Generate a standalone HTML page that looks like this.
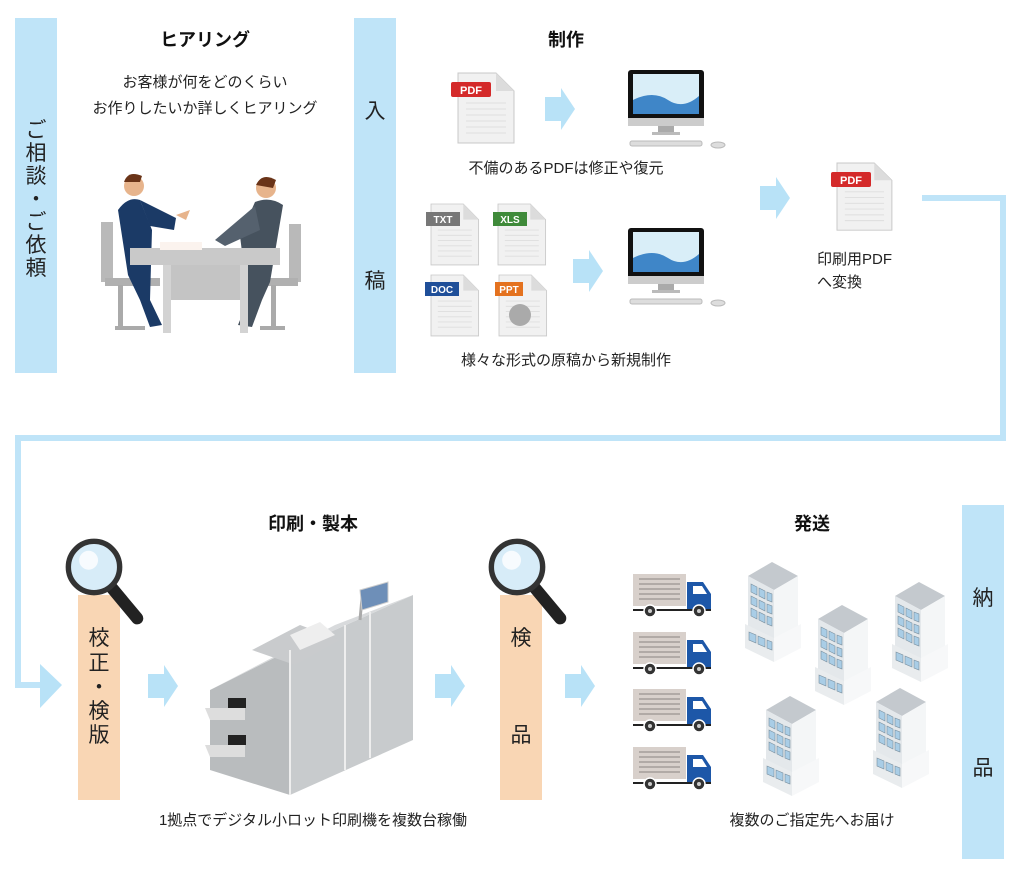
<!DOCTYPE html>
<html><head><meta charset="utf-8"><style>
html,body{margin:0;padding:0;background:#fff}
svg{display:block}
text{font-family:"Liberation Sans","Noto Sans CJK JP",sans-serif;fill:#222}
.t{font-size:15px}
.h{font-size:18px;font-weight:bold;fill:#111}
.v{font-size:21px}
</style></head><body>
<svg width="1024" height="873" viewBox="0 0 1024 873" xmlns="http://www.w3.org/2000/svg">
<defs>
 <g id="arr"><polygon points="0,9 16,9 16,0 30,21 16,42 16,33 0,33" fill="#b8e2f7"/></g>
 <g id="doc">
  <polygon points="0,0 38,0 56,18 56,70 0,70" fill="#f1f1f1" stroke="#c8c8c8"/>
  <polygon points="38,0 38,18 56,18" fill="#dcdcdc"/>
  <g stroke="#dedede" stroke-width="1"><line x1="8" y1="30" x2="48" y2="30"/><line x1="8" y1="36" x2="48" y2="36"/><line x1="8" y1="42" x2="48" y2="42"/><line x1="8" y1="48" x2="48" y2="48"/><line x1="8" y1="54" x2="48" y2="54"/><line x1="8" y1="60" x2="48" y2="60"/></g>
 </g>
 <g id="pc">
  <rect x="0" y="0" width="76" height="52" rx="3" fill="#111"/>
  <rect x="5" y="4" width="66" height="40" fill="#d9eef8"/>
  <path d="M5 30 Q25 20 40 30 T71 26 V44 H5Z" fill="#3f86c8"/>
  <rect x="0" y="48" width="76" height="8" fill="#ccc"/>
  <rect x="30" y="56" width="16" height="6" fill="#aaa"/>
  <rect x="24" y="62" width="28" height="3" fill="#bbb"/>
  <rect x="2" y="71" width="72" height="5" rx="2" fill="#ddd" stroke="#bbb"/>
  <ellipse cx="90" cy="75" rx="7" ry="3" fill="#ddd" stroke="#bbb"/>
 </g>
 <g id="mag">
  <line x1="32" y1="34" x2="52" y2="58" stroke="#222" stroke-width="9" stroke-linecap="round"/>
  <circle cx="20" cy="20" r="19" fill="#d7ecf8" stroke="#333" stroke-width="4"/>
  <circle cx="16" cy="15" r="7" fill="#fff" opacity=".8"/>
 </g>
 <g id="truck">
  <rect x="0" y="0" width="53" height="32" fill="#d8d0cb"/>
  <g stroke="#8a8480"><line x1="6" y1="5" x2="47" y2="5"/><line x1="6" y1="10" x2="47" y2="10"/><line x1="6" y1="15" x2="47" y2="15"/><line x1="6" y1="20" x2="47" y2="20"/><line x1="6" y1="25" x2="47" y2="25"/></g>
  <path d="M54 8 H70 L78 20 V36 H54Z" fill="#1d57a8"/>
  <path d="M60 12 H69 L74 20 H60Z" fill="#fff"/>
  <line x1="0" y1="36" x2="78" y2="36" stroke="#222" stroke-width="2"/>
  <circle cx="17" cy="37" r="6" fill="#333" stroke="#fff" stroke-width="1.5"/><circle cx="17" cy="37" r="2" fill="#ccc"/>
  <circle cx="66" cy="37" r="6" fill="#333" stroke="#fff" stroke-width="1.5"/><circle cx="66" cy="37" r="2" fill="#ccc"/>
 </g>
 <g id="bld">
  <polygon points="0,14 24,0 50,14 26,28" fill="#c4c9ce"/>
  <polygon points="0,14 26,28 26,95 0,82" fill="#e4e8eb"/>
  <polygon points="26,28 50,14 50,82 26,95" fill="#f4f6f7"/>
  <polygon points="-3,62 26,76 26,100 -3,86" fill="#e9ecee"/>
  <polygon points="26,76 53,62 53,86 26,100" fill="#f7f8f9"/>
  <g fill="#a9cde6" stroke="#7a8f9e" stroke-width=".6">
   <polygon points="3,22 9,25 9,33 3,30"/><polygon points="11,26 17,29 17,37 11,34"/><polygon points="19,30 24,32 24,40 19,38"/>
   <polygon points="3,34 9,37 9,45 3,42"/><polygon points="11,38 17,41 17,49 11,46"/><polygon points="19,42 24,44 24,52 19,50"/>
   <polygon points="3,46 9,49 9,57 3,54"/><polygon points="11,50 17,53 17,61 11,58"/><polygon points="19,54 24,56 24,64 19,62"/>
   <polygon points="1,70 8,73 8,81 1,78"/><polygon points="10,74 17,77 17,85 10,82"/><polygon points="19,78 24,80 24,88 19,86"/>
  </g>
 </g>
</defs>

<rect x="15" y="18" width="42" height="355" fill="#bfe4f8"/>
<rect x="354" y="18" width="42" height="355" fill="#bfe4f8"/>
<rect x="962" y="505" width="42" height="354" fill="#bfe4f8"/>
<rect x="78" y="595" width="42" height="205" fill="#f9d6b4"/>
<rect x="500" y="595" width="42" height="205" fill="#f9d6b4"/>

<polyline points="922,198 1003,198 1003,438 18,438 18,685 40,685" fill="none" stroke="#bfe4f8" stroke-width="6"/>
<polygon points="40,664 62,685 40,708" fill="#b8e2f7"/>

<text class="v" x="36" y="137" text-anchor="middle">ご</text>
<text class="v" x="36" y="160" text-anchor="middle">相</text>
<text class="v" x="36" y="183" text-anchor="middle">談</text>
<text class="v" x="36" y="206" text-anchor="middle">・</text>
<text class="v" x="36" y="229" text-anchor="middle">ご</text>
<text class="v" x="36" y="252" text-anchor="middle">依</text>
<text class="v" x="36" y="275" text-anchor="middle">頼</text>
<text class="v" x="375" y="118" text-anchor="middle">入</text>
<text class="v" x="375" y="288" text-anchor="middle">稿</text>
<text class="v" x="99" y="645" text-anchor="middle">校</text>
<text class="v" x="99" y="670" text-anchor="middle">正</text>
<text class="v" x="99" y="694" text-anchor="middle">・</text>
<text class="v" x="99" y="718" text-anchor="middle">検</text>
<text class="v" x="99" y="742" text-anchor="middle">版</text>
<text class="v" x="521" y="645" text-anchor="middle">検</text>
<text class="v" x="521" y="742" text-anchor="middle">品</text>
<text class="v" x="983" y="605" text-anchor="middle">納</text>
<text class="v" x="983" y="775" text-anchor="middle">品</text>

<text class="h" x="205" y="46" text-anchor="middle">ヒアリング</text>
<text class="h" x="566" y="46" text-anchor="middle">制作</text>
<text class="h" x="313" y="530" text-anchor="middle">印刷・製本</text>
<text class="h" x="812" y="530" text-anchor="middle">発送</text>

<text class="t" x="205" y="87" text-anchor="middle">お客様が何をどのくらい</text>
<text class="t" x="205" y="113" text-anchor="middle">お作りしたいか詳しくヒアリング</text>
<text class="t" x="566" y="173" text-anchor="middle">不備のあるPDFは修正や復元</text>
<text class="t" x="566" y="365" text-anchor="middle">様々な形式の原稿から新規制作</text>
<text class="t" x="817" y="264">印刷用PDF</text>
<text class="t" x="817" y="287">へ変換</text>
<text class="t" x="313" y="825" text-anchor="middle">1拠点でデジタル小ロット印刷機を複数台稼働</text>
<text class="t" x="812" y="825" text-anchor="middle">複数のご指定先へお届け</text>

<g>
 <rect x="101" y="222" width="12" height="60" fill="#b9b9b9"/><rect x="105" y="278" width="55" height="8" fill="#b0b0b0"/>
 <rect x="118" y="285" width="5" height="45" fill="#aaa"/><rect x="115" y="326" width="30" height="4" fill="#aaa"/>
 <rect x="289" y="224" width="12" height="58" fill="#b9b9b9"/><rect x="250" y="278" width="48" height="8" fill="#b0b0b0"/>
 <rect x="271" y="285" width="5" height="45" fill="#aaa"/><rect x="260" y="326" width="25" height="4" fill="#aaa"/>
 <path d="M118 210 Q128 196 140 200 L152 230 L150 300 L162 325 L150 327 L140 300 L128 275 Z" fill="#1b3a66"/>
 <path d="M140 200 L176 218 L174 230 L150 226 Z" fill="#1b3a66"/>
 <circle cx="134" cy="186" r="10" fill="#e7b48c"/><path d="M124 182 Q128 170 142 176 L140 182 Z" fill="#6a3418"/>
 <path d="M176 215 L190 210 L186 220 Z" fill="#e7b48c"/>
 <path d="M283 205 Q270 196 255 202 L240 236 L248 300 L238 325 L252 327 L262 300 L270 282 Z" fill="#46525e"/>
 <path d="M255 206 L215 240 L225 246 L260 230 Z" fill="#55616e"/>
 <circle cx="266" cy="188" r="10" fill="#e7b48c"/><path d="M256 185 Q262 172 276 180 L273 188 Z" fill="#6a3418"/>
 <rect x="130" y="248" width="150" height="17" fill="#c9c9c9"/>
 <rect x="163" y="265" width="84" height="35" fill="#c4c4c4"/>
 <rect x="163" y="265" width="8" height="68" fill="#d3d3d3"/><rect x="240" y="265" width="8" height="68" fill="#d3d3d3"/>
 <rect x="160" y="242" width="42" height="8" fill="#fbf3ee"/>
</g>

<use href="#doc" x="458" y="73"/>
<rect x="451" y="82" width="40" height="15" rx="2" fill="#d42a2a"/><text x="471" y="94" text-anchor="middle" style="font-size:11px;font-weight:bold;fill:#fff">PDF</text>
<use href="#arr" transform="translate(545,88)"/>
<use href="#pc" transform="translate(628,70)"/>
<use href="#arr" transform="translate(760,177)"/>
<use href="#doc" transform="translate(837,163) scale(0.98,0.96)"/>
<rect x="831" y="172" width="40" height="15" rx="2" fill="#d42a2a"/><text x="851" y="184" text-anchor="middle" style="font-size:11px;font-weight:bold;fill:#fff">PDF</text>

<g transform="translate(431,204) scale(0.85,0.87)"><use href="#doc"/></g>
<rect x="426" y="212" width="34" height="14" fill="#777"/><text x="443" y="223" text-anchor="middle" style="font-size:10px;font-weight:bold;fill:#fff">TXT</text>
<g transform="translate(498,204) scale(0.85,0.87)"><use href="#doc"/></g>
<rect x="493" y="212" width="34" height="14" fill="#3f8a3a"/><text x="510" y="223" text-anchor="middle" style="font-size:10px;font-weight:bold;fill:#fff">XLS</text>
<g transform="translate(431,275) scale(0.85,0.87)"><use href="#doc"/></g>
<rect x="425" y="282" width="34" height="14" fill="#1f4f99"/><text x="442" y="293" text-anchor="middle" style="font-size:10px;font-weight:bold;fill:#fff">DOC</text>
<g transform="translate(499,275) scale(0.85,0.87)"><use href="#doc"/></g>
<rect x="495" y="282" width="28" height="14" fill="#e4721f"/><text x="509" y="293" text-anchor="middle" style="font-size:10px;font-weight:bold;fill:#fff">PPT</text>
<circle cx="520" cy="315" r="11" fill="#aaa"/>
<use href="#arr" transform="translate(573,250)"/>
<use href="#pc" transform="translate(628,228)"/>

<use href="#arr" transform="translate(148,665)"/>
<use href="#arr" transform="translate(435,665)"/>
<use href="#arr" transform="translate(565,665)"/>

<use href="#mag" transform="translate(67,540) scale(1.35)"/>
<use href="#mag" transform="translate(490,540) scale(1.35)"/>

<g>
 <polygon points="210,690 290,650 290,795 210,770" fill="#b9bcbe"/>
 <polygon points="290,650 413,595 413,740 290,795" fill="#c8cbcd"/>
 <polygon points="210,690 290,650 413,595 335,625" fill="#d8dadc"/>
 <polygon points="252,650 300,625 340,640 295,665" fill="#c9cbcd"/>
 <polygon points="290,635 320,622 335,635 300,650" fill="#eee"/>
 <line x1="290" y1="650" x2="290" y2="795" stroke="#eee" stroke-width="2"/>
 <line x1="345" y1="625" x2="345" y2="770" stroke="#eee" stroke-width="2"/>
 <line x1="370" y1="612" x2="370" y2="758" stroke="#eee" stroke-width="2"/>
 <polygon points="205,708 245,708 245,720 210,720" fill="#ddd"/><rect x="228" y="698" width="18" height="10" fill="#222"/>
 <polygon points="205,745 245,745 245,757 210,757" fill="#ddd"/><rect x="228" y="735" width="18" height="10" fill="#222"/>
 <line x1="362" y1="598" x2="360" y2="620" stroke="#aaa" stroke-width="3"/>
 <polygon points="360,590 388,582 388,602 362,610" fill="#6e8fb8" stroke="#ccc"/>
</g>

<use href="#truck" transform="translate(633,574)"/>
<use href="#truck" transform="translate(633,632)"/>
<use href="#truck" transform="translate(633,689)"/>
<use href="#truck" transform="translate(633,747)"/>

<use href="#bld" transform="translate(748,562)"/>
<use href="#bld" transform="translate(818,605)"/>
<use href="#bld" transform="translate(895,582)"/>
<use href="#bld" transform="translate(766,696)"/>
<use href="#bld" transform="translate(876,688)"/>
</svg>
</body></html>
